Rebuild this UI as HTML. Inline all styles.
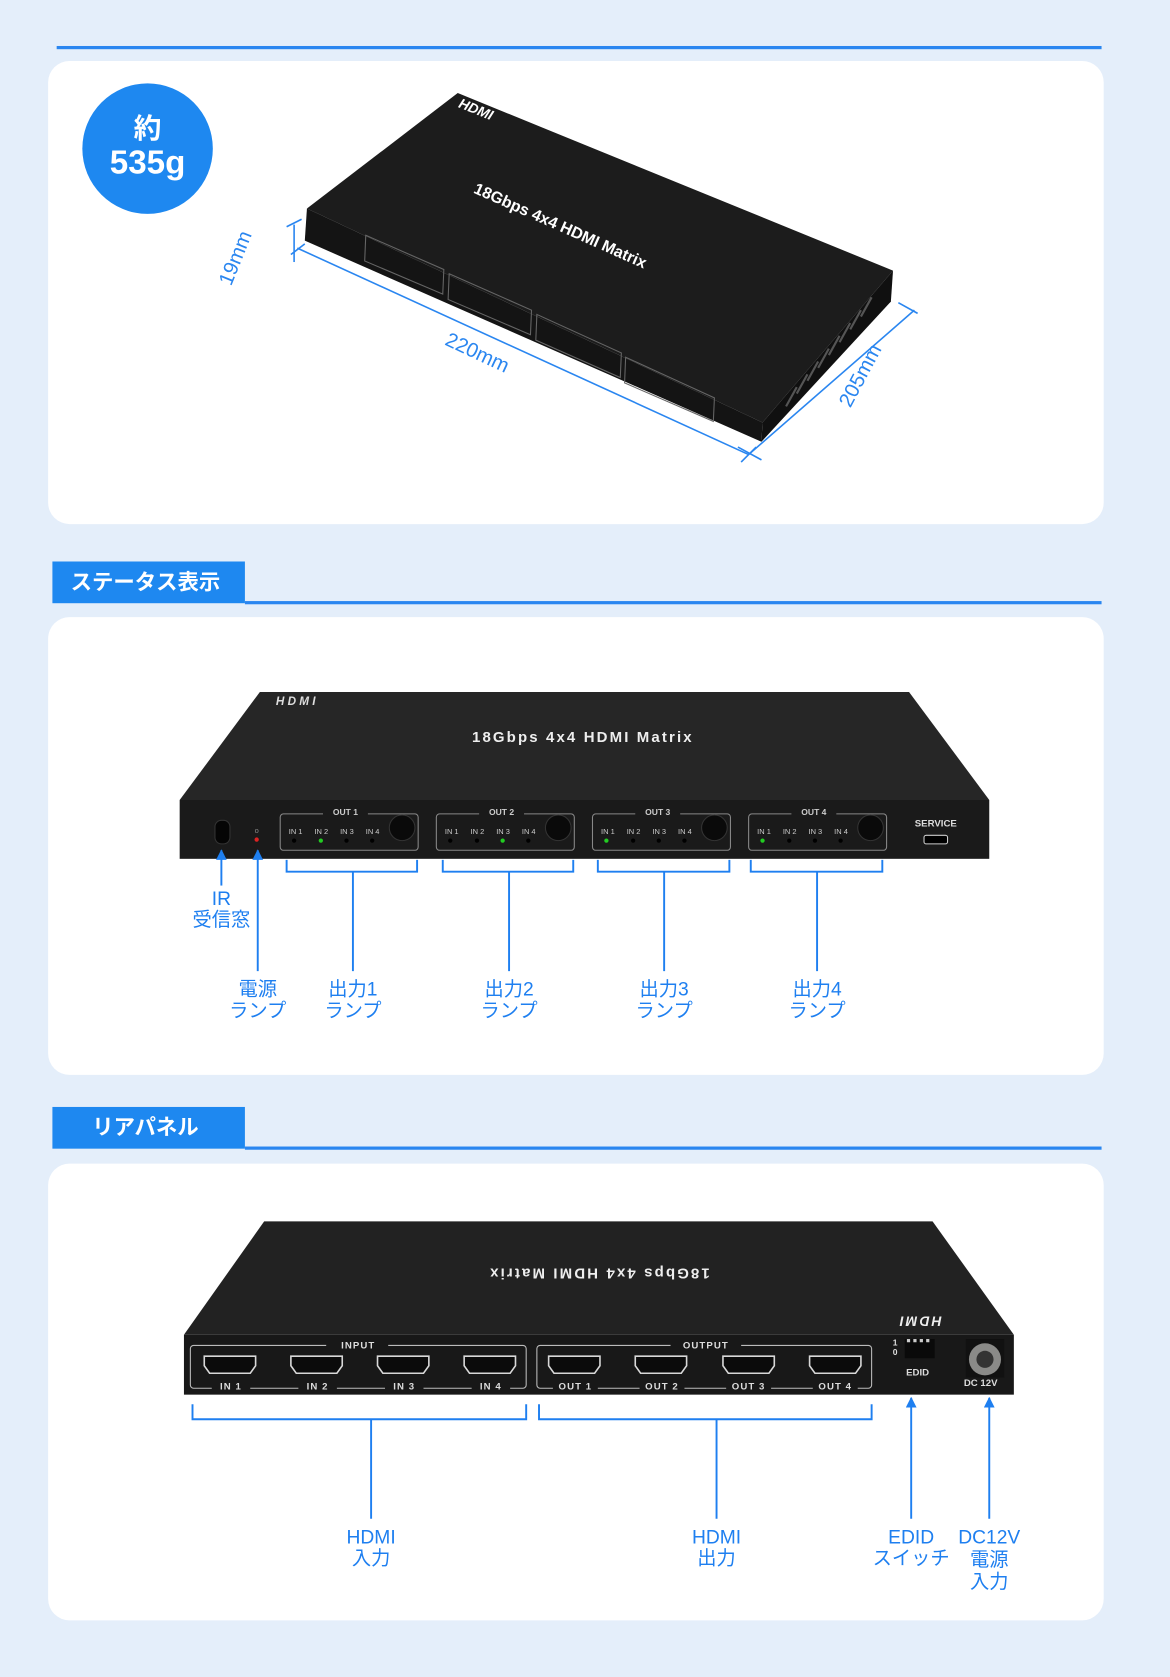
<!DOCTYPE html>
<html><head><meta charset="utf-8"><style>
html,body{margin:0;padding:0;background:#e4eefa;}
svg{display:block}
text{font-family:"Liberation Sans","Noto Sans CJK JP",sans-serif}
</style></head><body>
<svg width="1170" height="1677" viewBox="0 0 1094 1568" preserveAspectRatio="none" xmlns="http://www.w3.org/2000/svg">
<defs>
<g id="hport"><path d="M-24,-9 h48 v9 l-5,7 h-38 l-5,-7 z" fill="#0b0b0b" stroke="#d8d8d8" stroke-width="1.5"/></g>
<marker id="ar" markerWidth="10" markerHeight="10" refX="9" refY="5" orient="auto" markerUnits="userSpaceOnUse"><path d="M0,0 L10,5 L0,10 z" fill="#1e7ff0"/></marker>
</defs>
<rect width="1094" height="1568" fill="#e4eefa"/>
<rect x="53" y="43" width="977" height="3" fill="#2a86f0"/>
<rect x="45" y="57" width="987" height="433" rx="20" fill="#fff"/>
<circle cx="138" cy="139" r="61" fill="#1e88f0"/>
<text x="138" y="129" font-size="26" font-weight="bold" fill="#fff" text-anchor="middle">約</text>
<text x="138" y="162" font-size="31" font-weight="bold" fill="#fff" text-anchor="middle">535g</text>
<!-- device 1 -->
<polygon points="428,87 835,253 713,395 287,195" fill="#1c1c1c"/>
<polygon points="287,195 713,395 712,413 285,225" fill="#141414"/>
<polygon points="713,395 835,253 833,282 712,413" fill="#101010"/>
<g stroke="#555" stroke-width="2">
<line x1="735" y1="380" x2="745" y2="362"/><line x1="745" y1="368" x2="755" y2="350"/><line x1="755" y1="356" x2="765" y2="338"/><line x1="765" y1="344" x2="775" y2="326"/><line x1="775" y1="332" x2="785" y2="314"/><line x1="785" y1="320" x2="795" y2="302"/><line x1="795" y1="308" x2="805" y2="290"/><line x1="805" y1="296" x2="815" y2="278"/></g>
<g fill="none" stroke="#666" stroke-width="1"><polygon points="342,220 415,252 414,275 341,244"/><polygon points="420,256 497,290 496,313 419,280"/><polygon points="502,294 581,330 580,353 501,318"/><polygon points="585,334 668,372 667,394 584,358"/></g>
<text transform="translate(428,100) rotate(22)" font-size="13" font-weight="bold" fill="#fff" font-style="italic">HDMI</text>
<text transform="translate(442,180) rotate(24)" font-size="15" font-weight="bold" fill="#fff">18Gbps 4x4 HDMI Matrix</text>
<g stroke="#2a86f0" stroke-width="1.5" fill="none">
<line x1="275" y1="210" x2="275" y2="245"/><line x1="268" y1="212" x2="282" y2="205"/>
<line x1="278" y1="232" x2="700" y2="425"/><line x1="272" y1="238" x2="285" y2="228"/><line x1="693" y1="432" x2="707" y2="418"/>
<line x1="700" y1="425" x2="855" y2="290"/><line x1="690" y1="418" x2="712" y2="430"/><line x1="840" y1="283" x2="858" y2="293"/>
</g>
<text transform="translate(216,268) rotate(-68)" font-size="19" fill="#2a86f0">19mm</text>
<text transform="translate(415,322) rotate(25)" font-size="19" fill="#2a86f0">220mm</text>
<text transform="translate(795,382) rotate(-62)" font-size="19" fill="#2a86f0">205mm</text>
<!-- tab1 -->
<rect x="49" y="525" width="180" height="39" fill="#1e88f0"/>
<text x="136" y="551" font-size="20" font-weight="bold" fill="#fff" text-anchor="middle">ステータス表示</text>
<rect x="229" y="562" width="801" height="3" fill="#2a86f0"/>
<rect x="45" y="577" width="987" height="428" rx="20" fill="#fff"/>
<!-- device 2 -->
<polygon points="243,647 850,647 925,748 168,748" fill="#262626"/>
<rect x="168" y="748" width="757" height="55" fill="#1a1a1a"/>
<text x="258" y="659" font-size="11" font-weight="bold" font-style="italic" fill="#ddd" letter-spacing="3">HDMI</text>
<text x="545" y="694" font-size="14" font-weight="bold" fill="#eee" text-anchor="middle" letter-spacing="2">18Gbps 4x4 HDMI Matrix</text>
<rect x="201" y="767" width="14" height="22" rx="6" fill="#050505" stroke="#333"/>
<circle cx="240" cy="785" r="2" fill="#d22"/>
<text x="240" y="779" font-size="7" fill="#888" text-anchor="middle">o</text>
<g font-size="7" fill="#ccc">
<g transform="translate(262,0)"><rect x="0" y="761" width="129" height="34" rx="3" fill="none" stroke="#888"/><rect x="40" y="756" width="42" height="8" fill="#1a1a1a"/><text x="61" y="762" text-anchor="middle" font-size="8" font-weight="bold">OUT 1</text><text x="8" y="780">IN 1</text><text x="32" y="780">IN 2</text><text x="56" y="780">IN 3</text><text x="80" y="780">IN 4</text><circle cx="13" cy="786" r="2" fill="#000"/><circle cx="38" cy="786" r="2" fill="#2c2"/><circle cx="62" cy="786" r="2" fill="#000"/><circle cx="86" cy="786" r="2" fill="#000"/><circle cx="114" cy="774" r="12" fill="#0a0a0a" stroke="#333"/></g>
<g transform="translate(408,0)"><rect x="0" y="761" width="129" height="34" rx="3" fill="none" stroke="#888"/><rect x="40" y="756" width="42" height="8" fill="#1a1a1a"/><text x="61" y="762" text-anchor="middle" font-size="8" font-weight="bold">OUT 2</text><text x="8" y="780">IN 1</text><text x="32" y="780">IN 2</text><text x="56" y="780">IN 3</text><text x="80" y="780">IN 4</text><circle cx="13" cy="786" r="2" fill="#000"/><circle cx="38" cy="786" r="2" fill="#000"/><circle cx="62" cy="786" r="2" fill="#2c2"/><circle cx="86" cy="786" r="2" fill="#000"/><circle cx="114" cy="774" r="12" fill="#0a0a0a" stroke="#333"/></g>
<g transform="translate(554,0)"><rect x="0" y="761" width="129" height="34" rx="3" fill="none" stroke="#888"/><rect x="40" y="756" width="42" height="8" fill="#1a1a1a"/><text x="61" y="762" text-anchor="middle" font-size="8" font-weight="bold">OUT 3</text><text x="8" y="780">IN 1</text><text x="32" y="780">IN 2</text><text x="56" y="780">IN 3</text><text x="80" y="780">IN 4</text><circle cx="13" cy="786" r="2" fill="#2c2"/><circle cx="38" cy="786" r="2" fill="#000"/><circle cx="62" cy="786" r="2" fill="#000"/><circle cx="86" cy="786" r="2" fill="#000"/><circle cx="114" cy="774" r="12" fill="#0a0a0a" stroke="#333"/></g>
<g transform="translate(700,0)"><rect x="0" y="761" width="129" height="34" rx="3" fill="none" stroke="#888"/><rect x="40" y="756" width="42" height="8" fill="#1a1a1a"/><text x="61" y="762" text-anchor="middle" font-size="8" font-weight="bold">OUT 4</text><text x="8" y="780">IN 1</text><text x="32" y="780">IN 2</text><text x="56" y="780">IN 3</text><text x="80" y="780">IN 4</text><circle cx="13" cy="786" r="2" fill="#2c2"/><circle cx="38" cy="786" r="2" fill="#000"/><circle cx="62" cy="786" r="2" fill="#000"/><circle cx="86" cy="786" r="2" fill="#000"/><circle cx="114" cy="774" r="12" fill="#0a0a0a" stroke="#333"/></g>
</g>
<text x="875" y="773" font-size="9" font-weight="bold" fill="#ddd" text-anchor="middle">SERVICE</text>
<rect x="864" y="781" width="22" height="8" rx="2" fill="#000" stroke="#ccc"/>
<g stroke="#1e7ff0" stroke-width="1.8" fill="none">
<polyline points="268,804 268,815 390,815 390,804"/><line x1="330" y1="815" x2="330" y2="908"/>
<polyline points="414,804 414,815 536,815 536,804"/><line x1="476" y1="815" x2="476" y2="908"/>
<polyline points="559,804 559,815 682,815 682,804"/><line x1="621" y1="815" x2="621" y2="908"/>
<polyline points="702,804 702,815 825,815 825,804"/><line x1="764" y1="815" x2="764" y2="908"/>
<line x1="207" y1="828" x2="207" y2="795" marker-end="url(#ar)"/>
<line x1="241" y1="908" x2="241" y2="795" marker-end="url(#ar)"/>
</g>
<g font-size="18" fill="#1e7ff0" text-anchor="middle">
<text x="207" y="846">IR</text><text x="207" y="866">受信窓</text>
<text x="241" y="931">電源</text><text x="241" y="951">ランプ</text>
<text x="330" y="931">出力1</text><text x="330" y="951">ランプ</text>
<text x="476" y="931">出力2</text><text x="476" y="951">ランプ</text>
<text x="621" y="931">出力3</text><text x="621" y="951">ランプ</text>
<text x="764" y="931">出力4</text><text x="764" y="951">ランプ</text>
</g>
<!-- tab2 -->
<rect x="49" y="1035" width="180" height="39" fill="#1e88f0"/>
<text x="136" y="1061" font-size="20" font-weight="bold" fill="#fff" text-anchor="middle">リアパネル</text>
<rect x="229" y="1072" width="801" height="3" fill="#2a86f0"/>
<rect x="45" y="1088" width="987" height="427" rx="20" fill="#fff"/>
<!-- device 3 -->
<polygon points="247,1142 872,1142 948,1248 172,1248" fill="#222"/>
<rect x="172" y="1248" width="776" height="56" fill="#181818"/>
<text transform="translate(560,1186) rotate(180)" font-size="14" font-weight="bold" fill="#eee" text-anchor="middle" letter-spacing="2">18Gbps 4x4 HDMI Matrix</text>
<text transform="translate(860,1231) rotate(180)" font-size="13" font-weight="bold" font-style="italic" fill="#eee" text-anchor="middle" letter-spacing="2">HDMI</text>
<g fill="none" stroke="#bbb" stroke-width="1"><rect x="178" y="1258" width="314" height="40" rx="3"/><rect x="502" y="1258" width="313" height="40" rx="3"/></g>
<g fill="#181818"><rect x="305" y="1252" width="58" height="10"/><rect x="627" y="1252" width="66" height="10"/>
<rect x="198" y="1292" width="36" height="10"/><rect x="279" y="1292" width="36" height="10"/><rect x="360" y="1292" width="36" height="10"/><rect x="441" y="1292" width="36" height="10"/>
<rect x="517" y="1292" width="42" height="10"/><rect x="598" y="1292" width="42" height="10"/><rect x="679" y="1292" width="42" height="10"/><rect x="760" y="1292" width="42" height="10"/></g>
<g font-size="9" font-weight="bold" fill="#ddd" text-anchor="middle" letter-spacing="1">
<text x="335" y="1261">INPUT</text><text x="660" y="1261">OUTPUT</text>
<text x="216" y="1299">IN 1</text><text x="297" y="1299">IN 2</text><text x="378" y="1299">IN 3</text><text x="459" y="1299">IN 4</text>
<text x="538" y="1299">OUT 1</text><text x="619" y="1299">OUT 2</text><text x="700" y="1299">OUT 3</text><text x="781" y="1299">OUT 4</text>
</g>
<use href="#hport" x="215" y="1277"/><use href="#hport" x="296" y="1277"/><use href="#hport" x="377" y="1277"/><use href="#hport" x="458" y="1277"/>
<use href="#hport" x="537" y="1277"/><use href="#hport" x="618" y="1277"/><use href="#hport" x="700" y="1277"/><use href="#hport" x="781" y="1277"/>
<rect x="846" y="1252" width="28" height="18" fill="#0a0a0a"/>
<g fill="#ccc"><rect x="848" y="1252" width="3" height="3"/><rect x="854" y="1252" width="3" height="3"/><rect x="860" y="1252" width="3" height="3"/><rect x="866" y="1252" width="3" height="3"/></g>
<text x="837" y="1258" font-size="8" font-weight="bold" fill="#ddd" text-anchor="middle">1</text>
<text x="837" y="1267" font-size="8" font-weight="bold" fill="#ddd" text-anchor="middle">0</text>
<text x="858" y="1286" font-size="9" font-weight="bold" fill="#ddd" text-anchor="middle">EDID</text>
<rect x="903" y="1252" width="36" height="36" fill="#111"/>
<circle cx="921" cy="1271" r="15" fill="#8a8a88"/><circle cx="921" cy="1271" r="8" fill="#333"/>
<text x="917" y="1296" font-size="9" font-weight="bold" fill="#ddd" text-anchor="middle">DC  12V</text>
<g stroke="#1e7ff0" stroke-width="1.8" fill="none">
<polyline points="180,1313 180,1327 492,1327 492,1313"/><line x1="347" y1="1327" x2="347" y2="1420"/>
<polyline points="504,1313 504,1327 815,1327 815,1313"/><line x1="670" y1="1327" x2="670" y2="1420"/>
<line x1="852" y1="1420" x2="852" y2="1307" marker-end="url(#ar)"/>
<line x1="925" y1="1420" x2="925" y2="1307" marker-end="url(#ar)"/>
</g>
<g font-size="18" fill="#1e7ff0" text-anchor="middle">
<text x="347" y="1443">HDMI</text><text x="347" y="1463">入力</text>
<text x="670" y="1443">HDMI</text><text x="670" y="1463">出力</text>
<text x="852" y="1443">EDID</text><text x="852" y="1463">スイッチ</text>
<text x="925" y="1443">DC12V</text><text x="925" y="1464">電源</text><text x="925" y="1485">入力</text>
</g>
</svg>
</body></html>
